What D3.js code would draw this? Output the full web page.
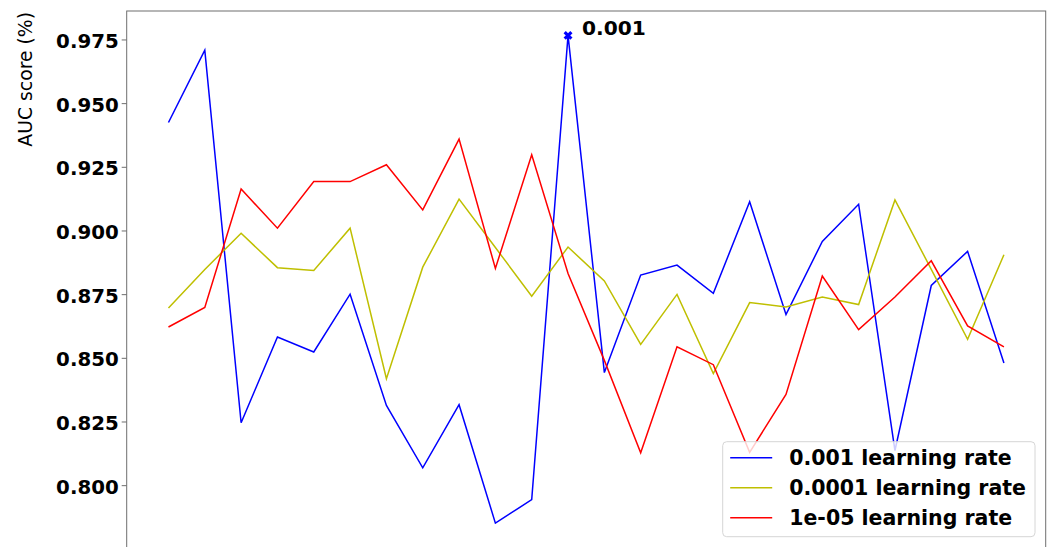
<!DOCTYPE html>
<html>
<head>
<meta charset="utf-8">
<script src="https://cdn.jsdelivr.net/npm/d3@7"></script>
<style>
  html, body { margin: 0; padding: 0; background: #fff; }
  svg { display: block; font-family: "DejaVu Sans", sans-serif; }
</style>
</head>
<body>
<svg id="chart" width="1057" height="547"></svg>
<script>
// Run index along the x axis (24 runs)
const runs = [0, 1, 2, 3, 4, 5, 6, 7, 8, 9, 10, 11, 12, 13, 14, 15, 16, 17, 18, 19, 20, 21, 22, 23];

// AUC per run for each learning rate
const lr0001 = [0.9424, 0.9708, 0.8245, 0.8582, 0.8523, 0.8750, 0.8313, 0.8068, 0.8316, 0.7851, 0.7943, 0.9766,
                0.8442, 0.8825, 0.8864, 0.8753, 0.9113, 0.8670, 0.8957, 0.9103, 0.8136, 0.8784, 0.8918, 0.8480];
const lr00001 = [0.8696, 0.8847, 0.8989, 0.8854, 0.8843, 0.9009, 0.8418, 0.8856, 0.9123, 0.8933, 0.8742, 0.8935,
                 0.8802, 0.8553, 0.8749, 0.8438, 0.8717, 0.8700, 0.8739, 0.8709, 0.9120, 0.8847, 0.8573, 0.8905];
const lr000001 = [0.8621, 0.8698, 0.9163, 0.9009, 0.9192, 0.9192, 0.9258, 0.9081, 0.9359, 0.8851, 0.9297, 0.8831,
                  0.8490, 0.8127, 0.8543, 0.8473, 0.8129, 0.8356, 0.8821, 0.8611, 0.8739, 0.8881, 0.8625, 0.8543];

const seriesNames = ["0.001 learning rate", "0.0001 learning rate", "1e-05 learning rate"];
const rateLabels = ["0.001", "0.0001", "1e-05"];
const seriesColors = ["#0000ff", "#bfbf00", "#ff0000"];
const yTicks = [0.800, 0.825, 0.850, 0.875, 0.900, 0.925, 0.950, 0.975];

const series = [lr0001, lr00001, lr000001].map((values, k) => ({
  name: seriesNames[k], rate: rateLabels[k], color: seriesColors[k], values
}));

// Axes box
const box = { left: 126.7, right: 1045.7, top: 11, bottom: 547.5 };
const svg = d3.select("#chart");

// Data limits with a 5% margin on each side
const xMin = d3.min(runs), xMax = d3.max(runs), xPad = (xMax - xMin) * 0.05;
const allVals = series.flatMap(s => s.values);
const yMin = d3.min(allVals), yMax = d3.max(allVals), yPad = (yMax - yMin) * 0.05;

const x = d3.scaleLinear().domain([xMin - xPad, xMax + xPad]).range([box.left, box.right]);
const y = d3.scaleLinear().domain([yMin - yPad, yMax + yPad]).range([box.bottom, box.top]);

// Plot frame
svg.append("rect")
  .attr("x", box.left).attr("y", box.top)
  .attr("width", box.right - box.left).attr("height", box.bottom - box.top + 2)
  .attr("fill", "none").attr("stroke", "#6e6e6e").attr("stroke-width", 1);

// Y axis
const yAxis = d3.axisLeft(y).tickValues(yTicks).tickFormat(d3.format(".3f"))
  .tickSize(5).tickPadding(3);
const gy = svg.append("g").attr("transform", `translate(${box.left},0)`).call(yAxis);
gy.select(".domain").remove();
gy.selectAll(".tick line").attr("stroke", "#6e6e6e");
gy.selectAll(".tick text")
  .attr("fill", "#000").attr("dy", "0.4em")
  .style("font-family", "'DejaVu Sans', sans-serif")
  .style("font-size", "19.8px").style("font-weight", "bold");

// Y axis title, aligned to the top of the axis
svg.append("text")
  .attr("transform", `translate(31.5,${box.top + 1}) rotate(-90)`)
  .attr("text-anchor", "end")
  .style("font-size", "18.8px")
  .attr("fill", "#000")
  .text("AUC score (%)");

// Lines
const line = d3.line().x((d, i) => x(runs[i])).y(d => y(d));
const plot = svg.append("g");
series.forEach(s => {
  plot.append("path")
    .datum(s.values)
    .attr("fill", "none")
    .attr("stroke", s.color)
    .attr("stroke-width", 1.5)
    .attr("stroke-linejoin", "miter")
    .attr("d", line);
});

// Best score marker and its learning-rate tag
const bestSeries = series.reduce((a, b) => (d3.max(b.values) > d3.max(a.values) ? b : a));
const bestIdx = d3.maxIndex(bestSeries.values);
const bx = x(runs[bestIdx]), by = y(bestSeries.values[bestIdx]);
svg.append("path")
  .attr("d", d3.symbol().type(d3.symbolCross).size(50)())
  .attr("transform", `translate(${bx},${by}) rotate(45)`)
  .attr("fill", bestSeries.color);
svg.append("text")
  .attr("x", bx + 14).attr("y", by)
  .style("font-size", "20.2px").style("font-weight", "bold")
  .attr("fill", "#000")
  .text(bestSeries.rate);

// Legend
const lg = svg.append("g").attr("transform", "translate(722.7,441.7)");
lg.append("rect")
  .attr("width", 312.3).attr("height", 95)
  .attr("rx", 4).attr("ry", 4)
  .attr("fill", "#fff").attr("fill-opacity", 0.8)
  .attr("stroke", "#d6d6d6").attr("stroke-width", 1);
series.forEach((s, k) => {
  const cy = 16 + k * 30;
  lg.append("line")
    .attr("x1", 7.5).attr("x2", 49.5).attr("y1", cy).attr("y2", cy)
    .attr("stroke", s.color).attr("stroke-width", 1.5);
  lg.append("text")
    .attr("x", 66.5).attr("y", cy + 7.5)
    .style("font-size", "20.5px").style("font-weight", "bold")
    .attr("fill", "#000")
    .text(s.name);
});
</script>
</body>
</html>
